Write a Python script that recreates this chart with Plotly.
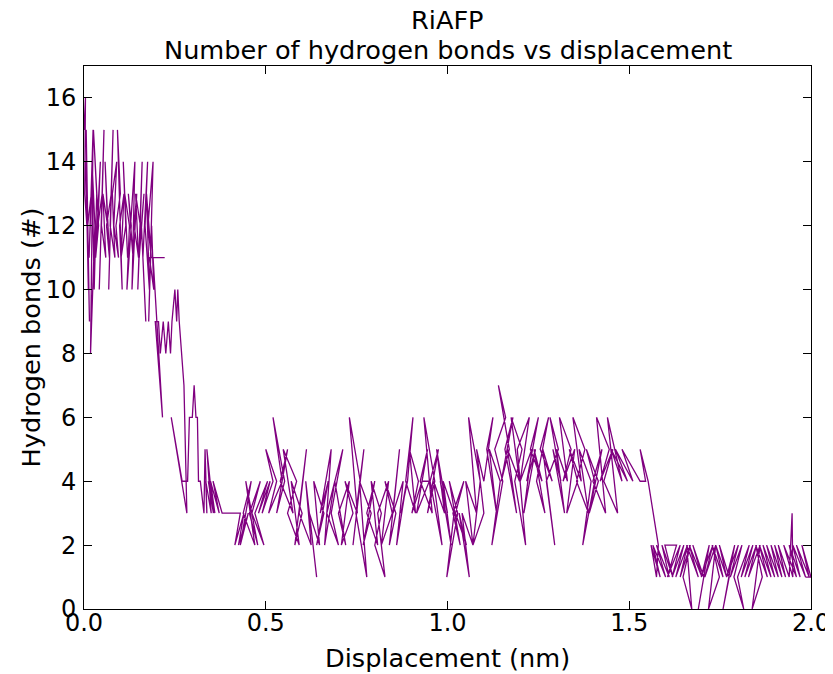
import plotly.graph_objects as go

title_lines = ["RiAFP", "Number of hydrogen bonds vs displacement"]
x_label = "Displacement (nm)"
y_label = "Hydrogen bonds (#)"
x_ticks = [0.0, 0.5, 1.0, 1.5, 2.0]
y_ticks = [0, 2, 4, 6, 8, 10, 12, 14, 16]

disp_a = [0.000,0.004,0.002,0.008,0.005,0.012,0.006,0.015,0.010,0.020,0.014,0.025,0.018,0.030,0.022,0.028,0.035,0.026,0.040,0.032,0.045,0.038,0.050,0.042,0.055,0.048,0.060,0.052,0.065,0.058,0.070,0.062,0.075,0.068,0.080,0.072,0.085,0.078,0.090,0.082,0.095,0.088,0.100,0.092,0.105,0.098,0.110,0.102,0.115,0.108,0.120,0.112,0.125,0.118,0.130,0.122,0.135,0.128,0.140,0.132,0.145,0.138,0.150,0.142,0.155,0.148,0.160,0.152,0.165,0.158,0.170,0.162,0.175,0.168,0.180,0.172,0.185,0.176,0.190,0.182,0.178,0.186,0.192,0.180]
hb_a = [15,16,13,12,14,10,15,9,12,13,11,15,8,12,14,10,13,15,12,11,14,12,13,10,15,12,11,13,12,14,11,12,13,10,15,12,11,13,14,12,11,12,13,15,10,12,13,11,12,14,11,13,12,10,12,13,11,12,14,10,13,12,11,13,12,10,14,11,13,12,9,11,14,12,10,13,11,12,14,11,9,12,10,11]

disp_b = [0.180,0.222,0.190,0.216,0.196,0.205,0.210,0.218,0.225,0.232,0.238,0.242,0.250,0.255,0.258,0.262,0.275,0.283,0.240,0.270,0.285,0.290,0.298,0.303,0.308,0.312,0.315,0.320,0.330,0.333,0.338]
hb_b = [11,11,11,6,9,9,8,9,8,9,8,9,10,9,10,9,7,3,6,4,4,6,6,7,6,6,4,4,3,5,3]

disp_c = [0.335,0.350,0.338,0.356,0.342,0.360,0.348,0.372,0.355,0.380,0.430,0.415,0.440,0.425,0.452,0.430,0.460,0.438,0.470,0.445,0.478,0.455,0.485,0.462,0.495,0.470,0.505,0.480,0.512,0.490,0.520,0.500,0.530,0.508,0.545,0.520,0.552,0.530,0.560,0.540,0.575,0.548,0.585,0.560,0.592,0.570,0.600,0.580,0.612,0.592]
hb_c = [4,3,5,3,4,3,4,3,4,3,3,2,3,2,3,2,4,3,2,4,2,3,4,3,2,3,4,3,4,3,4,5,4,3,4,6,4,3,5,4,3,5,4,3,2,4,3,2,5,3]

disp_d = [0.625,0.610,0.640,0.620,0.648,0.632,0.660,0.640,0.672,0.650,0.680,0.662,0.690,0.668,0.700,0.680,0.712,0.690,0.720,0.700,0.730,0.708,0.740,0.718,0.752,0.730,0.760,0.740,0.770,0.748,0.778,0.758,0.790,0.768,0.800,0.778,0.808,0.790,0.818,0.800,0.828,0.808,0.838,0.818,0.848,0.828,0.858,0.840,0.868,0.850,0.878,0.860,0.888,0.872]
hb_d = [2,4,1,3,2,4,3,2,4,3,5,2,4,3,2,3,5,4,2,3,4,2,3,4,3,6,4,2,5,3,1,4,3,2,4,3,2,4,3,2,1,3,4,2,3,4,3,2,5,3,4,2,4,3]

disp_e = [0.890,0.905,0.885,0.912,0.895,0.920,0.902,0.930,0.950,0.915,0.945,0.925,0.958,0.935,0.965,0.945,0.975,0.952,0.985,0.962,0.992,0.970,1.000,0.980,1.010,0.988,1.018,0.998,1.028,1.005,1.035,1.015,1.045,1.022,1.052,1.032,1.060,1.040,1.070,1.050,1.080,1.058,1.090,1.070,1.100,1.080]
hb_e = [4,6,4,3,5,4,3,4,4,3,5,4,3,6,4,3,5,4,2,4,3,5,3,4,2,4,3,1,3,4,2,3,4,3,2,3,1,3,2,4,3,6,4,2,3,5]

disp_f = [1.100,1.125,1.108,1.135,1.115,1.145,1.122,1.152,1.130,1.160,1.140,1.170,1.148,1.180,1.158,1.190,1.165,1.198,1.175,1.205,1.185,1.215,1.192,1.225,1.200,1.232,1.210,1.242,1.218,1.250,1.228,1.260,1.238,1.268,1.245,1.278,1.255,1.288,1.262,1.295,1.272,1.305,1.282,1.312,1.290,1.322,1.300,1.330,1.308,1.340,1.318,1.350,1.328,1.358,1.335,1.368,1.345,1.378,1.355,1.388,1.362,1.395,1.372,1.405,1.382,1.415,1.390,1.425,1.400,1.435,1.410,1.445,1.420,1.455,1.430,1.468,1.440,1.480,1.450,1.495,1.462,1.510,1.480,1.530]
hb_f = [4,6,5,3,5,4,2,4,5,6,7,5,4,6,5,3,5,4,6,5,4,2,5,6,4,5,3,5,4,6,5,4,5,3,4,6,5,4,5,2,4,5,6,4,5,3,5,4,6,5,4,5,3,4,5,4,6,5,4,3,5,4,2,4,5,4,3,5,4,3,6,5,4,5,4,3,6,4,5,4,5,4,5,4]

disp_g = [1.545,1.530,1.552,1.580,1.575,1.560,1.585,1.565,1.600,1.575,1.610,1.590,1.620,1.598,1.630,1.605,1.640,1.618,1.650,1.628,1.660,1.640,1.668,1.648,1.672,1.658,1.690,1.665,1.700,1.675,1.705,1.690,1.720,1.698,1.730,1.708,1.738,1.718,1.748,1.728,1.758,1.738,1.768,1.748,1.775,1.758,1.790,1.768,1.800,1.778,1.810,1.788,1.815,1.798,1.830,1.808,1.840,1.818,1.850,1.828,1.860,1.838,1.866,1.848,1.880,1.858,1.890,1.868,1.900,1.878,1.910,1.890,1.920,1.900,1.930,1.910,1.940,1.948,1.950,1.925,1.960,1.940,1.970,1.950,1.985,1.960,1.995,1.975,2.000,1.985]
hb_g = [4,5,4,2,1,2,1,2,1,2,1,2,1,2,2,1,2,1,2,1,2,1,2,1,0,2,1,2,1,2,1,0,2,1,2,1,2,0,1,2,1,2,1,2,1,0,2,1,2,1,2,1,0,1,2,1,2,1,2,1,2,0,1,2,1,2,1,2,1,2,1,2,1,2,1,2,1,3,1,2,1,2,1,2,1,2,1,2,1,1]

displacement = disp_a + disp_b + disp_c + disp_d + disp_e + disp_f + disp_g
hbonds = hb_a + hb_b + hb_c + hb_d + hb_e + hb_f + hb_g

FONT = "DejaVu Sans"
TICK_SIZE = 24
LABEL_SIZE = 25.6

# the page body has an 8px margin; target plot area (page px): left 84, right 811, top 66, bottom 609
OFF = 8
FIG_W, FIG_H = 833 - OFF, 674 - OFF
PLOT_H = 609 - 66
PLOT_W = 811 - 84

fig = go.Figure()
fig.add_trace(go.Scatter(
    x=displacement, y=hbonds, mode="lines",
    line=dict(color="#800080", width=1.3),
    showlegend=False,
))

axis_common = dict(
    showgrid=False, zeroline=False, automargin=False,
    showline=True, linecolor="black", linewidth=1, mirror="ticks",
    ticks="inside", ticklen=8, tickwidth=1, tickcolor="black",
    tickfont=dict(family=FONT, size=TICK_SIZE, color="black"),
)

annotations = [
    dict(text=title_lines[0], x=0.5, xref="paper", xanchor="center",
         y=(609 - 20) / PLOT_H, yref="paper", yanchor="middle", showarrow=False,
         font=dict(family=FONT, size=LABEL_SIZE, color="black")),
    dict(text=title_lines[1], x=0.5, xref="paper", xanchor="center",
         y=(609 - 50) / PLOT_H, yref="paper", yanchor="middle", showarrow=False,
         font=dict(family=FONT, size=LABEL_SIZE, color="black")),
    dict(text=x_label, x=0.5, xref="paper", xanchor="center",
         y=(609 - 658) / PLOT_H, yref="paper", yanchor="middle", showarrow=False,
         font=dict(family=FONT, size=LABEL_SIZE, color="black")),
    dict(text=y_label, x=(30 - 84) / PLOT_W, xref="paper", xanchor="center",
         y=0.5, yref="paper", yanchor="middle", showarrow=False, textangle=-90,
         font=dict(family=FONT, size=LABEL_SIZE, color="black")),
]

fig.update_layout(
    width=FIG_W, height=FIG_H,
    margin=dict(l=84 - OFF, r=833 - 811, t=66 - OFF, b=674 - 609),
    paper_bgcolor="white", plot_bgcolor="white",
    annotations=annotations,
    xaxis=dict(range=[0, 2], tickvals=x_ticks, tickformat=".1f",
               ticklabelstandoff=-8, **axis_common),
    yaxis=dict(range=[0, 17], tickvals=y_ticks,
               ticklabelstandoff=2, **axis_common),
)

fig.write_html("out.html")
